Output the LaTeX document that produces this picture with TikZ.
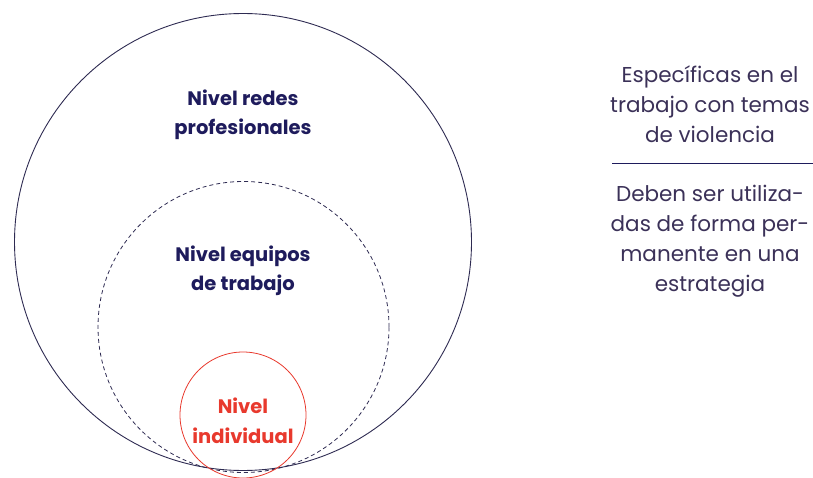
\documentclass[tikz,border=0pt]{standalone}
\usepackage{fontspec}
\setmainfont{Poppins}
\usepackage{xcolor}
\definecolor{navy}{HTML}{1E1B5C}
\definecolor{plum}{HTML}{3B3158}
\definecolor{rojo}{HTML}{E8392D}
\definecolor{linea}{HTML}{2E2B52}

\begin{document}
\begin{tikzpicture}[x=1pt,y=-1pt,
  nivel/.style={align=center,font=\fontsize{19.5}{29.5}\selectfont\bfseries,text=navy},
  nota/.style={align=center,font=\fontsize{21.5}{30}\selectfont,text=plum}]
\useasboundingbox (0,0) rectangle (813,478);
% circulos
\node (redes) at (243,242) [circle,draw=linea,line width=0.9pt,minimum size=457pt,inner sep=0pt] {};
\node (equipos) at (243.5,327) [circle,draw=linea,dash pattern=on 4pt off 3pt,line width=0.8pt,minimum size=291pt,inner sep=0pt] {};
\node (indiv) at (243,415) [circle,draw=rojo,line width=0.8pt,minimum size=126pt,inner sep=0pt] {};
% textos
\node (t1) at (243,115) [nivel] {Nivel redes\\profesionales};
\node (t2) at (243,271) [nivel] {Nivel equipos\\de trabajo};
\node (t3) at (243,421) [nivel,text=rojo] {Nivel\\individual};
\node (n1) at (710,104) [nota] {Específicas en el\\trabajo con temas\\de violencia};
\node (n2) at (710,241) [nota] {Deben ser utiliza-\\das de forma per-\\manente en una\\estrategia};
\coordinate (l1) at (612,164);
\coordinate (l2) at (813,164);
\draw [navy,line width=1pt] (l1) -- (l2);
\end{tikzpicture}
\end{document}
